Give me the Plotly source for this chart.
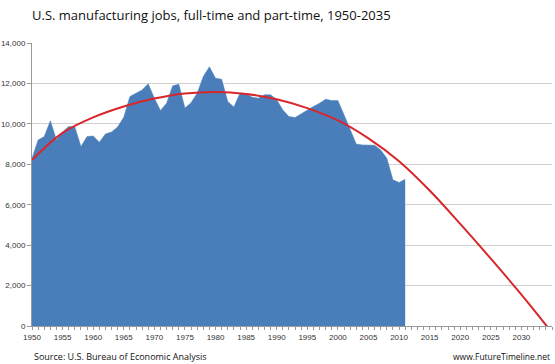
import plotly.graph_objects as go

years = list(range(1950, 2012))
jobs = [8300, 9200, 9370, 10150, 9200, 9600, 9870, 9850, 8880, 9370,
        9400, 9090, 9500, 9600, 9850, 10330, 11350, 11520, 11680, 11980,
        11270, 10660, 11020, 11880, 11960, 10780, 11050, 11520, 12340, 12820,
        12260, 12210, 11100, 10830, 11520, 11490, 11320, 11270, 11440, 11440,
        11190, 10690, 10360, 10310, 10500, 10690, 10860, 11020, 11220, 11150,
        11150, 10450, 9700, 9000, 8960, 8960, 8940, 8710, 8300, 7230,
        7100, 7260]

trend_years = list(range(1950, 2040, 5))
trend_vals = [8210, 9550, 10320, 10860, 11250, 11500, 11580, 11480, 11220,
              10780, 10170, 9280, 8150, 6700, 5050, 3330, 1550, -330]

y_ticks = [0, 2000, 4000, 6000, 8000, 10000, 12000, 14000]
x_ticks = list(range(1950, 2035, 5))

title_text = "U.S. manufacturing jobs, full-time and part-time, 1950-2035"
source_text = "Source: U.S. Bureau of Economic Analysis"
site_text = "www.FutureTimeline.net"

W, H = 555, 364

fig = go.Figure()
fig.add_trace(go.Scatter(
    x=years, y=jobs, mode="lines", fill="tozeroy",
    line=dict(color="#4A7EBB", width=0.5), fillcolor="#4A7EBB",
    showlegend=False, hoverinfo="skip"))
fig.add_trace(go.Scatter(
    x=trend_years, y=trend_vals, mode="lines",
    line=dict(color="#D8262B", width=2, shape="spline", smoothing=1.0),
    showlegend=False, hoverinfo="skip"))

tick_font = dict(family="Liberation Sans, Arial, sans-serif", size=8, color="#333333")

fig.update_layout(
    width=W, height=H,
    margin=dict(l=32, r=3, t=43, b=38, autoexpand=False),
    paper_bgcolor="white", plot_bgcolor="white",
    title=dict(text=title_text, xref="paper", x=0, xanchor="left",
               yref="container", y=1 - 15/H, yanchor="middle",
               pad=dict(l=0, r=0, t=0, b=0),
               font=dict(family="Open Sans, sans-serif", size=13, color="#111111")),
    xaxis=dict(range=[1950, 2035], tickvals=x_ticks, ticktext=[str(v) for v in x_ticks],
               ticks="outside", ticklen=3, tickcolor="#999999", tickfont=tick_font,
               showgrid=False, showline=True, linecolor="#999999", linewidth=1,
               zeroline=False, automargin=False,
               minor=dict(dtick=1, tick0=1950, ticks="outside", ticklen=3, tickcolor="#999999")),
    yaxis=dict(range=[0, 14000], tickvals=y_ticks, tickformat=",",
               ticks="outside", ticklen=4, tickcolor="#999999", tickfont=tick_font,
               showgrid=True, gridcolor="#cfcfcf", gridwidth=1, automargin=False,
               showline=True, linecolor="#999999", linewidth=1, zeroline=False),
    annotations=[
        dict(text=source_text, xref="paper", yref="paper", x=0, y=-30/283,
             xanchor="left", yanchor="middle", showarrow=False,
             font=dict(family="Open Sans, sans-serif", size=9, color="#111111")),
        dict(text=site_text, xref="paper", yref="paper", x=1, y=-30/283,
             xanchor="right", yanchor="middle", showarrow=False,
             font=dict(family="Open Sans, sans-serif", size=8.5, color="#111111")),
    ],
)

fig.write_html("out.html", config={"displayModeBar": False},
               post_script="document.body.style.margin='0px';")
